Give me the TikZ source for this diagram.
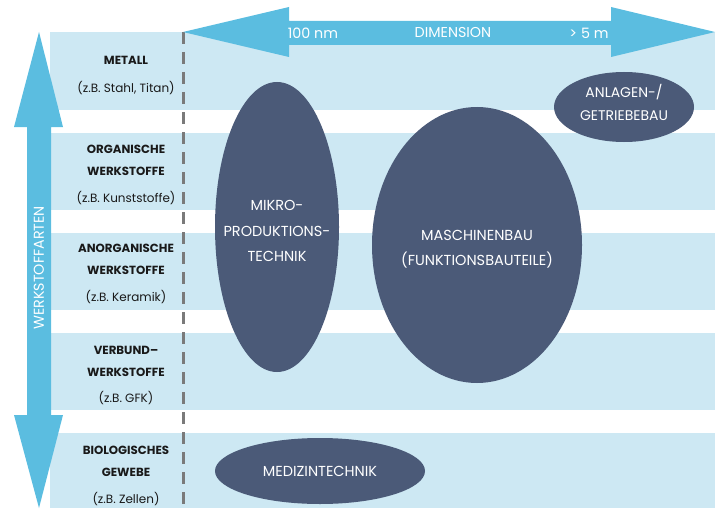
\documentclass[tikz,border=0pt]{standalone}
\usepackage{fontspec}
\setmainfont{Poppins}
\usetikzlibrary{shapes.geometric}

\definecolor{bandblau}{HTML}{CDE8F3}
\definecolor{pfeilblau}{HTML}{5BBDE0}
\definecolor{feldblau}{HTML}{4B5A78}
\definecolor{strichgrau}{HTML}{7A7A7A}

\tikzset{
	band/.style={fill=bandblau},
	typ/.style={font=\bfseries\fontsize{11.8}{22}\selectfont, text=black!90, align=center},
	bsp/.style={font=\fontsize{12}{14}\selectfont, text=black!90},
	feld/.style={shape=ellipse, fill=feldblau, inner sep=0pt},
	feldtext/.style={font=\fontsize{14.5}{25.5}\selectfont, text=white, align=center},
	achse/.style={font=\fontsize{14.3}{16}\selectfont, text=white}
}

\begin{document}
\begin{tikzpicture}[x=1pt,y=-1pt]
	\useasboundingbox (0,0) rectangle (719,508);

	\fill[band] (50,32) rectangle (715,110);
	\fill[band] (50,133) rectangle (715,210);
	\fill[band] (50,233) rectangle (715,310);
	\fill[band] (50,333) rectangle (715,410);
	\fill[band] (50,433) rectangle (715,508);

	\draw[strichgrau, line width=3, dash pattern=on 12 off 8] (183,32) -- (183,508);

	\fill[pfeilblau] (183,32) -- (289,7) -- (289,21) -- (611,21) -- (611,7) -- (715,32)
		-- (611,57) -- (611,45) -- (289,45) -- (289,57) -- cycle;
	\fill[pfeilblau] (39,32) -- (63,127) -- (51,127) -- (51,415) -- (63,415) -- (39,508)
		-- (14,415) -- (27,415) -- (27,127) -- (14,127) -- cycle;

	\node[achse] (nano) at (313,33) {100 nm};
	\node[achse] (dim) at (453,33) {DIMENSION};
	\node[achse] (meter) at (589,33) {> 5 m};
	\node[achse, rotate=90] (arten) at (39,268) {WERKSTOFFARTEN};

	\node[typ] (metall) at (126,60) {METALL};
	\node[bsp] (metallbsp) at (126,88) {(z.B. Stahl, Titan)};
	\node[typ] (organisch) at (126,160) {ORGANISCHE\\WERKSTOFFE};
	\node[bsp] (organischbsp) at (126,198) {(z.B. Kunststoffe)};
	\node[typ] (anorganisch) at (126,259) {ANORGANISCHE\\WERKSTOFFE};
	\node[bsp] (anorganischbsp) at (126,297) {(z.B. Keramik)};
	\node[typ] (verbund) at (126,361) {VERBUND--\\WERKSTOFFE};
	\node[bsp] (verbundbsp) at (126,398) {(z.B. GFK)};
	\node[typ] (bio) at (126,461) {BIOLOGISCHES\\GEWEBE};
	\node[bsp] (biobsp) at (126,499) {(z.B. Zellen)};

	\node[feld, minimum width=124, minimum height=290] (mikro) at (277,227) {};
	\node[feld, minimum width=210, minimum height=276] (maschinen) at (477,245) {};
	\node[feld, minimum width=140, minimum height=70] (anlagen) at (624,107) {};
	\node[feld, minimum width=210, minimum height=66] (medizin) at (320,471) {};

	\node[feldtext] (mikrotext) at (277,231) {MIKRO-\\PRODUKTIONS-\\TECHNIK};
	\node[feldtext] (maschinentext) at (477,249) {MASCHINENBAU\\(FUNKTIONSBAUTEILE)};
	\node[feldtext, font=\fontsize{14}{23}\selectfont] (anlagentext) at (624,102) {ANLAGEN-/\\GETRIEBEBAU};
	\node[feldtext] (medizintext) at (medizin) {MEDIZINTECHNIK};
\end{tikzpicture}
\end{document}
